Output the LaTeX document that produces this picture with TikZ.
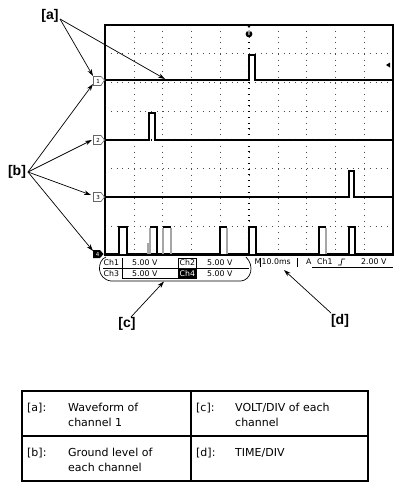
\documentclass[tikz,border=0pt]{standalone}
\usepackage{fontspec}
\setmainfont{DejaVu Sans}
\newfontfamily\labfont{Liberation Sans}
\usetikzlibrary{arrows.meta}
\tikzset{
  wave/.style={line width=1.5pt,black,line join=miter},
  wavegray/.style={line width=1.1pt,gray!70},
  gridv/.style={black!70,line width=0.6pt,dash pattern=on 0.6pt off 5.15pt},
  gridh/.style={black!70,line width=0.6pt,dash pattern=on 0.6pt off 5.16pt},
  callout/.style={line width=0.7pt,-{Stealth[length=7pt,width=4.5pt]}},
  lbl/.style={font=\labfont\bfseries\fontsize{14}{14}\selectfont,inner sep=0pt},
  stat/.style={font=\fontsize{7.8}{8}\selectfont,inner sep=0pt,anchor=west},
  tbl/.style={font=\fontsize{11}{13}\selectfont,inner sep=0pt,anchor=base west},
  chmark/.style={draw=black!60,line width=0.6pt,fill=white},
  chnum/.style={font=\fontsize{5.5}{6}\selectfont,inner sep=0pt}
}
\begin{document}
\begin{tikzpicture}[x=1pt,y=-1pt]
\useasboundingbox (0,0) rectangle (403,491);

% ---------- grid ----------
\foreach \i in {1,...,9}
  \draw[gridv] ({105+28.8*\i},25) -- ({105+28.8*\i},255);
\foreach \j in {1,...,7}
  \draw[gridh] (105,{25+28.75*\j}) -- (393,{25+28.75*\j});
% centre axis ticks
\foreach \k in {1,...,39}
  \draw[black,line width=0.5pt] (247.6,{25+5.75*\k}) -- (250.4,{25+5.75*\k});
\foreach \k in {1,...,49}
  \draw[black,line width=0.5pt] ({105+5.76*\k},138.6) -- ({105+5.76*\k},141.4);

% ---------- waveforms ----------
\draw[wave] (105,80) -- (249,80) -- (249,55) -- (255,55) -- (255,80) -- (393,80);
\draw[wave] (105,140) -- (149,140) -- (149,113) -- (155,113) -- (155,140) -- (393,140);
\draw[wave] (105,197) -- (349,197) -- (349,171) -- (354,171) -- (354,197) -- (393,197);
\draw[wave] (105,254) -- (119,254) -- (119,227) -- (127,227) -- (127,254)
  -- (157,254) (150,227) -- (157,227) -- (157,254)
  -- (220,254) -- (220,227) -- (227,227)
  (227,254) -- (249,254) -- (249,227) -- (256,227) -- (256,254)
  -- (319,254) -- (319,227) -- (326,227)
  (326,254) -- (349,254) -- (349,227) -- (355,227) -- (355,254) -- (393,254);
\draw[wave] (163,227) -- (171,227);
\draw[wavegray] (148,254) -- (148,243);
\draw[wavegray] (150,254) -- (150,228);
\draw[wavegray] (163,254) -- (163,228);
\draw[wavegray] (171,254) -- (171,228);
\draw[wavegray] (227,254) -- (227,228);
\draw[wavegray] (326,254) -- (326,228);

% ---------- screen border and markers ----------
\draw[line width=1.2pt] (105,25) rectangle (393,255);
\fill (246.5,24.5) -- (251.5,24.5) -- (249,28) -- cycle;
\fill (249,34) circle (3.4);
\node[font=\bfseries\fontsize{5}{5}\selectfont,text=white,inner sep=0pt] (trig) at (249,34) {T};
\fill (386,65) -- (390,62.5) -- (390,67.5) -- cycle;

\draw[chmark] (93.5,76.5) -- (101,76.5) -- (104.5,80) -- (101,85.5) -- (93.5,85.5) -- cycle;
\node[chnum] (m1) at (98,81) {1};
\draw[chmark] (93.5,135.5) -- (101,135.5) -- (104.5,140) -- (101,144.5) -- (93.5,144.5) -- cycle;
\node[chnum] (m2) at (98,140) {2};
\draw[chmark] (93.5,192.5) -- (101,192.5) -- (104.5,197) -- (101,201.5) -- (93.5,201.5) -- cycle;
\node[chnum] (m3) at (98,197) {3};
\fill (93,250) -- (100,250) -- (103.5,254) -- (100,258) -- (93,258) -- cycle;
\node[chnum,text=white] (m4) at (97.5,254) {4};

% ---------- status bar ----------
\draw[line width=0.7pt] (106,257) .. controls (97,260) and (96,279) .. (111,281)
  -- (241,281) .. controls (251,280) and (255,266) .. (246,257);
\draw[line width=0.6pt] (103,268.3) -- (249,268.3);
\draw[line width=0.6pt] (122,258) -- (122,278);
\draw[line width=0.6pt] (122,278.5) -- (178,278.5);
\draw[line width=0.6pt] (178,258) rectangle (196,268.3);
\fill (178,268.3) rectangle (197,278.5);
\node[stat] (c1) at (103.5,263) {Ch1};
\node[stat] (v1) at (132,263) {5.00 V};
\node[stat] (c2) at (179.5,263) {Ch2};
\node[stat] (v2) at (207,263) {5.00 V};
\node[stat] (c3) at (103.5,273.5) {Ch3};
\node[stat] (v3) at (132,273.5) {5.00 V};
\node[stat,text=white] (c4) at (179.5,273.5) {Ch4};
\node[stat] (v4) at (207,273.5) {5.00 V};

\node[stat] (mm) at (254.5,262) {M};
\draw[line width=0.6pt] (260,257.5) -- (260,267);
\draw[line width=0.6pt] (297.5,257.5) -- (297.5,267);
\node[stat] (tdiv) at (261.5,262) {10.0ms};
\node[stat] (aa) at (306,262) {A};
\node[stat] (tc) at (317,262) {Ch1};
\draw[line width=0.7pt] (338,265) -- (341,265) -- (342,259) -- (345,259);
\node[stat] (tl) at (361,262) {2.00 V};
\draw[line width=0.6pt] (312,267.5) -- (393,267.5);

% ---------- callouts ----------
\node[lbl] (la) at (50,16) {[a]};
\node[lbl] (lb) at (17,172) {[b]};
\node[lbl] (lc) at (127,324) {[c]};
\node[lbl] (ld) at (340,321) {[d]};
\coordinate (a0) at (60,19);
\coordinate (a1) at (93,76);
\coordinate (a2) at (165,79);
\coordinate (b0) at (28,172);
\coordinate (b1) at (93,84);
\coordinate (b2) at (92,140);
\coordinate (b3) at (91,195);
\coordinate (b4) at (93,251);
\coordinate (c0) at (131,317);
\coordinate (c1e) at (164,281.5);
\coordinate (d0) at (331,313);
\coordinate (d1) at (284,270);
\draw[callout] (a0) -- (a1);
\draw[callout] (a0) -- (a2);
\draw[callout] (b0) -- (b1);
\draw[callout] (b0) -- (b2);
\draw[callout] (b0) -- (b3);
\draw[callout] (b0) -- (b4);
\draw[callout] (c0) -- (c1e);
\draw[callout] (d0) -- (d1);

% ---------- table ----------
\draw[line width=1.3pt] (22,391) rectangle (368,481);
\draw[line width=1.3pt] (191,391) -- (191,481);
\draw[line width=1.3pt] (22,436) -- (368,436);
\node[tbl] (ta) at (27,411) {[a]:};
\node[tbl] (ta1) at (68,411) {Waveform of};
\node[tbl] (ta2) at (68,426) {channel 1};
\node[tbl] (tc0) at (196,411) {[c]:};
\node[tbl] (tc1) at (235,411) {VOLT/DIV of each};
\node[tbl] (tc2) at (235,426) {channel};
\node[tbl] (tb) at (27,456) {[b]:};
\node[tbl] (tb1) at (68,456) {Ground level of};
\node[tbl] (tb2) at (68,471) {each channel};
\node[tbl] (td0) at (196,456) {[d]:};
\node[tbl] (td1) at (235,456) {TIME/DIV};
\end{tikzpicture}
\end{document}
